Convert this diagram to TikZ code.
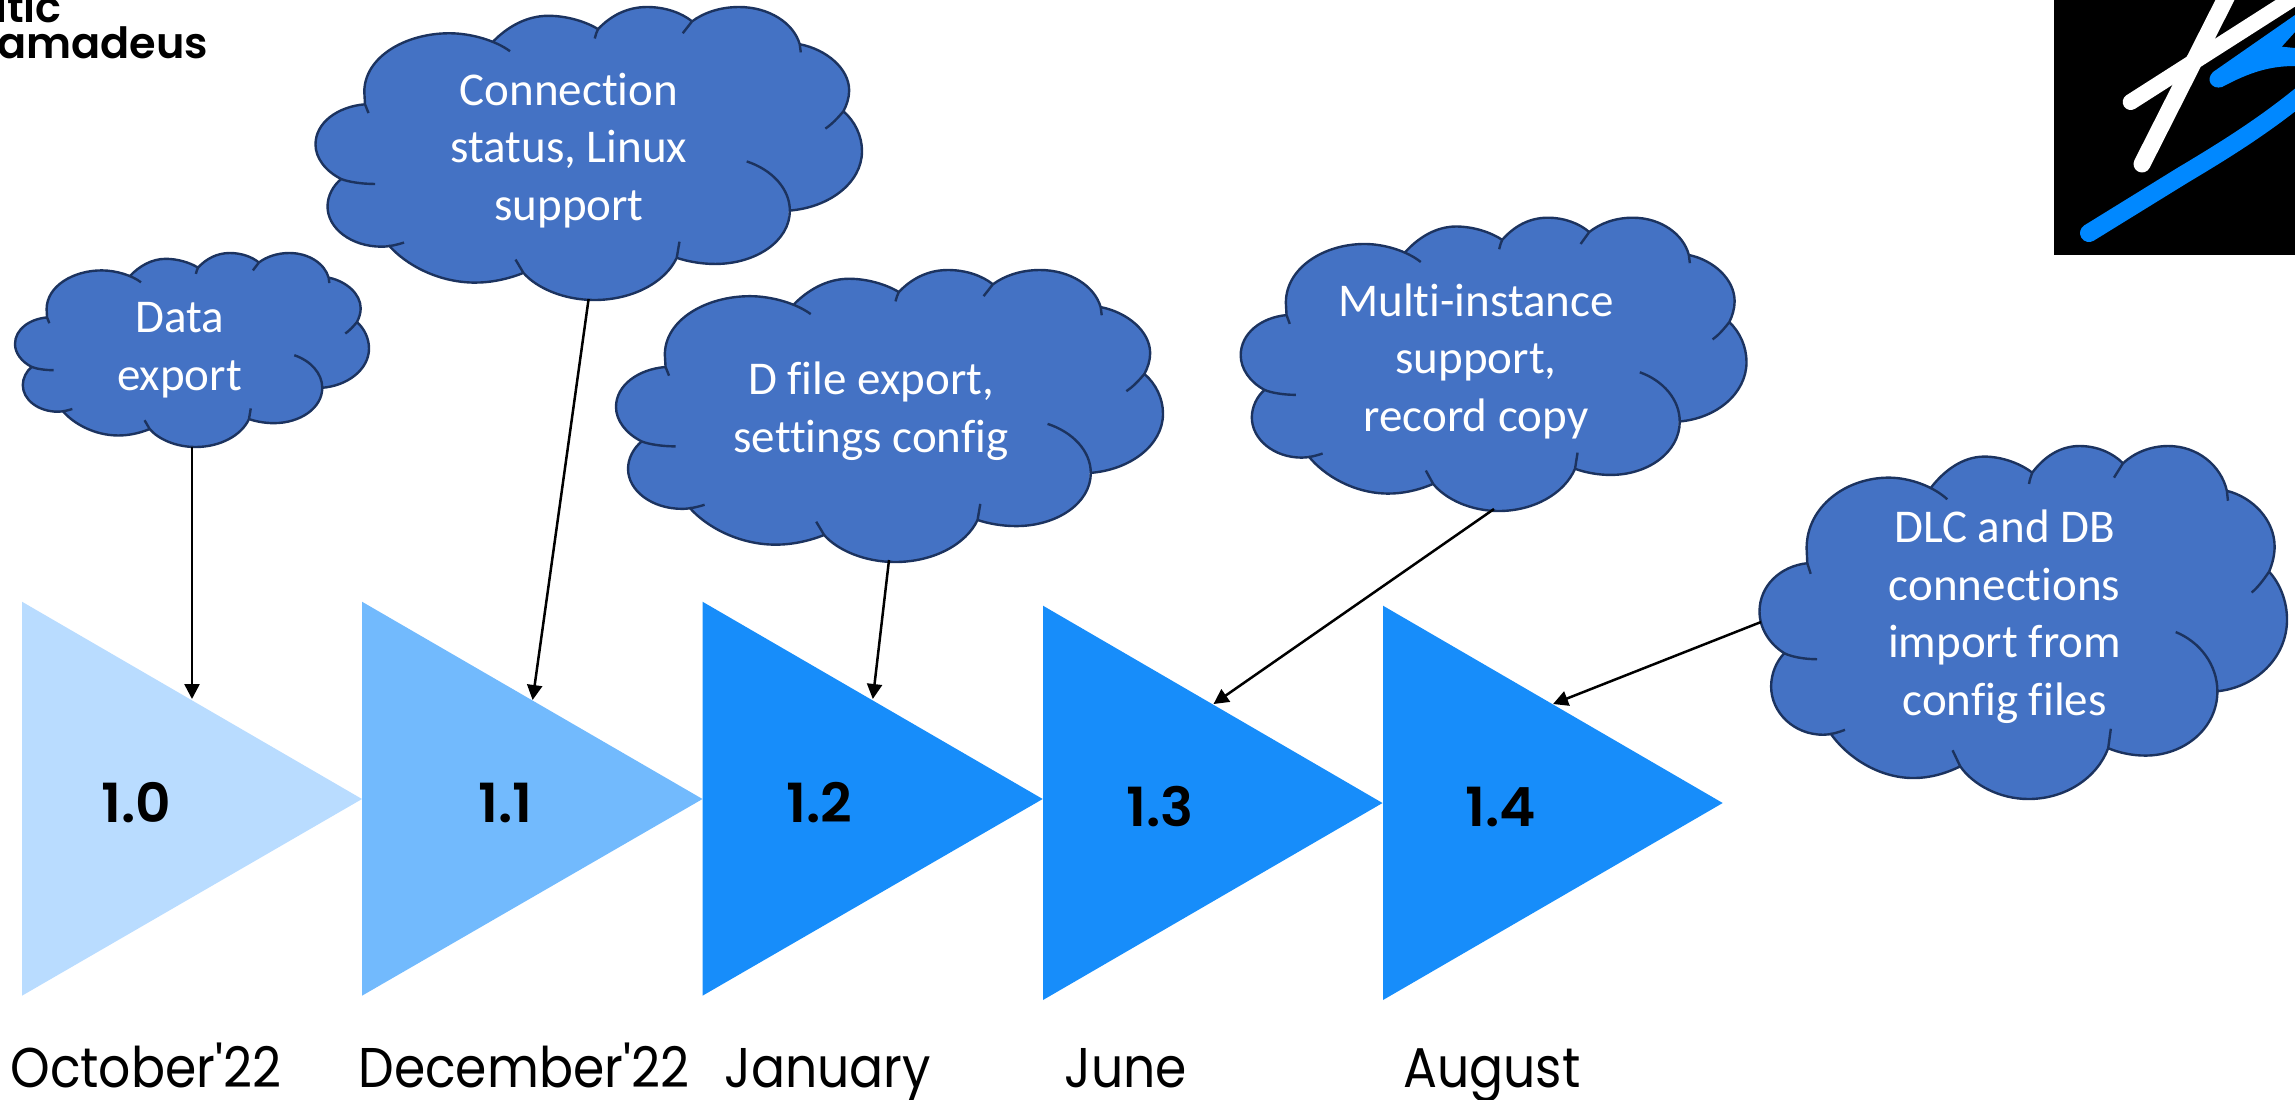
\documentclass[tikz,border=0pt]{standalone}
\usepackage{fontspec}
\usetikzlibrary{arrows.meta}
\setmainfont{Carlito}[Ligatures=NoCommon]
\newfontfamily\datefont[FakeStretch=0.90]{Poppins}
\newfontfamily\verfont[FakeStretch=1.02]{Poppins SemiBold}
\newfontfamily\logofont{Poppins SemiBold}
\definecolor{cloudfill}{HTML}{4472C4}
\definecolor{cloudline}{HTML}{1C335F}
\definecolor{triA}{HTML}{B9DCFF}
\definecolor{triB}{HTML}{72BAFD}
\definecolor{triC}{HTML}{178DFA}
\definecolor{logoblue}{HTML}{0088FF}
\tikzset{
  cloudtext/.style={align=center,text=white,inner sep=0pt,font=\fontsize{23.5}{28.7}\selectfont},
  datetext/.style={anchor=base west,inner sep=0pt,font=\datefont\fontsize{28}{32}\selectfont},
  vertext/.style={anchor=base west,inner sep=0pt,font=\verfont\fontsize{27}{30}\selectfont},
  logotext/.style={inner sep=0pt,font=\logofont\fontsize{21.5}{26}\selectfont},
  link/.style={draw=black,line width=1.25pt,-{Triangle[length=7.5pt,width=7.5pt]}},
  lobe/.style={draw=cloudline,line width=1.2pt},
}
\newcommand{\cloudoutline}{
  (.0906,.332) -- (.0893,.29) .. controls (.0893,.17) and (.165,.0896) .. (.245,.0896)
  .. controls (.285,.0896) and (.31,.105) .. (.3255,.117)
  .. controls (.35,.07) and (.385,.03) .. (.426,.03)
  .. controls (.46,.03) and (.495,.05) .. (.517,.0755)
  .. controls (.54,.03) and (.57,0) .. (.607,0)
  .. controls (.64,0) and (.67,.02) .. (.689,.049)
  .. controls (.71,.02) and (.74,0) .. (.775,0)
  .. controls (.83,0) and (.875,.055) .. (.886,.127)
  .. controls (.935,.145) and (.9765,.21) .. (.9765,.285)
  .. controls (.9765,.31) and (.972,.335) .. (.966,.356)
  .. controls (.987,.39) and (1,.44) .. (1,.492)
  .. controls (1,.60) and (.94,.685) .. (.866,.695)
  .. controls (.868,.80) and (.805,.877) .. (.7315,.877)
  .. controls (.705,.877) and (.68,.868) .. (.661,.856)
  .. controls (.64,.94) and (.58,1) .. (.51,1)
  .. controls (.455,1) and (.405,.96) .. (.3805,.9075)
  .. controls (.35,.93) and (.32,.9406) .. (.292,.9406)
  .. controls (.225,.9406) and (.165,.88) .. (.134,.813)
  .. controls (.125,.818) and (.123,.818) .. (.121,.818)
  .. controls (.065,.818) and (.022,.755) .. (.022,.681)
  .. controls (.022,.645) and (.032,.61) .. (.047,.587)
  .. controls (.018,.56) and (0,.515) .. (0,.469)
  .. controls (0,.395) and (.04,.34) .. (.0906,.332) -- cycle}
\newcommand{\cloudlobes}{
  (.097,.362) -- (.0906,.332) -- (.0893,.29) .. controls (.0893,.17) and (.165,.0896) .. (.245,.0896)
  .. controls (.285,.0896) and (.33,.115) .. (.356,.151)
  (.3255,.117) .. controls (.35,.07) and (.385,.03) .. (.426,.03)
  .. controls (.46,.03) and (.495,.05) .. (.517,.0755)
  (.511,.1075) .. controls (.512,.095) and (.515,.085) .. (.517,.0755)
  .. controls (.54,.03) and (.57,0) .. (.607,0)
  .. controls (.64,0) and (.67,.02) .. (.689,.049)
  (.672,.0896) -- (.689,.049)
  .. controls (.71,.02) and (.74,0) .. (.775,0)
  .. controls (.83,0) and (.875,.055) .. (.886,.127) -- (.888,.155)
  (.886,.127) .. controls (.935,.145) and (.9765,.21) .. (.9765,.285)
  .. controls (.9765,.31) and (.972,.335) .. (.966,.356)
  .. controls (.955,.38) and (.945,.40) .. (.933,.415)
  (.966,.356) .. controls (.987,.39) and (1,.44) .. (1,.492)
  .. controls (1,.60) and (.94,.685) .. (.866,.695)
  (.789,.527) .. controls (.835,.555) and (.868,.62) .. (.868,.695)
  .. controls (.868,.80) and (.805,.877) .. (.7315,.877)
  .. controls (.705,.877) and (.68,.868) .. (.661,.856)
  (.666,.801) -- (.661,.856)
  .. controls (.64,.94) and (.58,1) .. (.51,1)
  .. controls (.455,1) and (.405,.96) .. (.3805,.9075) -- (.366,.862)
  (.3805,.9075) .. controls (.35,.93) and (.32,.9406) .. (.292,.9406)
  .. controls (.225,.9406) and (.165,.88) .. (.134,.813)
  (.162,.804) .. controls (.15,.811) and (.135,.818) .. (.121,.818)
  .. controls (.065,.818) and (.022,.755) .. (.022,.681)
  .. controls (.022,.645) and (.032,.61) .. (.047,.587)
  (.109,.604) .. controls (.085,.604) and (.06,.597) .. (.047,.587)
  .. controls (.018,.56) and (0,.515) .. (0,.469)
  .. controls (0,.395) and (.04,.34) .. (.0906,.332)}
% x0,y0,width,height
\newcommand{\cloudat}[4]{%
  \begin{scope}[shift={(#1,#2)},xscale=#3,yscale=#4]
    \fill[cloudfill] \cloudoutline;
    \path[lobe] \cloudlobes;
  \end{scope}}
\begin{document}
\begin{tikzpicture}[x=.5pt,y=-.5pt]
\useasboundingbox (0,0) rectangle (2295,1099);
\clip (0,0) rectangle (2295,1099);

% logo top left
\node[logotext,anchor=base east] (logoa) at (62,22.7) {ltic};
\node[logotext,anchor=base west] (logob) at (-3,58) {amadeus};

% logo top right
\fill[black] (2054,0) rectangle (2295,255);
\draw[white,line width=8pt,line cap=round] (2130.7,102) -- (2303,-8);
\draw[white,line width=8.5pt,line cap=round] (2142,164) -- (2232,-14);
\draw[logoblue,line width=9pt,line cap=round] (2089,233) -- (2183,175) .. controls (2225,150) and (2265,125) .. (2305,92);
\fill[logoblue] (2213,72) -- (2295,15) -- (2295,32) -- (2281.7,46.7) -- (2295,48) -- (2295,66)
  .. controls (2270,66) and (2250,72) .. (2222,87) .. controls (2212,90) and (2205,80) .. (2213,72) -- cycle;

% triangles
\fill[triA] (22,601.7) -- (362,799) -- (22,995.7) -- cycle;
\fill[triB] (362,601.7) -- (702.5,799) -- (362,995.7) -- cycle;
\fill[triC] (702.5,601.7) -- (1042.7,799) -- (702.5,995.7) -- cycle;
\fill[triC] (1043,605.7) -- (1382.5,803) -- (1043,1000) -- cycle;
\fill[triC] (1383,605.7) -- (1722.7,803) -- (1383,1000) -- cycle;

% clouds
\cloudat{15}{253}{354}{194}
\cloudat{315.5}{7}{546.5}{293}
\cloudat{616}{270}{547}{292}
\cloudat{1240.7}{217.7}{505.8}{293.3}
\cloudat{1759.5}{446}{527.5}{353}

\node[cloudtext,anchor=base] (cA) at (179.5,390) {Data\\export};
\node[cloudtext,anchor=base] (cB) at (569,220) {Connection\\status, Linux\\support};
\node[cloudtext,anchor=base] (cC) at (871,452) {D file export,\\settings config};
\node[cloudtext,anchor=base] (cD) at (1476,431) {Multi-instance\\support,\\record copy};
\node[cloudtext,anchor=base] (cE) at (2004.6,715) {DLC and DB\\connections\\import from\\config files};

% version labels
\node[vertext] (vA) at (101,822) {1.0};
\node[vertext] (vB) at (478,822) {1.1};
\node[vertext] (vC) at (786,822) {1.2};
\node[vertext] (vD) at (1126,826) {1.3};
\node[vertext] (vE) at (1465,826) {1.4};

% dates
\node[datetext] (dA) at (10,1087) {October'22};
\node[datetext] (dB) at (358,1087) {December'22};
\node[datetext] (dC) at (724,1087) {January};
\node[datetext] (dD) at (1064,1087) {June};
\node[datetext] (dE) at (1403,1087) {August};

% connector ends
\coordinate (oA) at (192,447);
\coordinate (oB) at (588.6,299);
\coordinate (oC) at (889,560);
\coordinate (oD) at (1494,509);
\coordinate (oE) at (1761,622);
\coordinate (tA) at (192,699);
\coordinate (tB) at (532.6,700);
\coordinate (tC) at (872.8,699);
\coordinate (tD) at (1213.5,704);
\coordinate (tE) at (1553,704);
\draw[link] (oA) -- (tA);
\draw[link] (oB) -- (tB);
\draw[link] (oC) -- (tC);
\draw[link] (oD) -- (tD);
\draw[link] (oE) -- (tE);
\end{tikzpicture}
\end{document}
